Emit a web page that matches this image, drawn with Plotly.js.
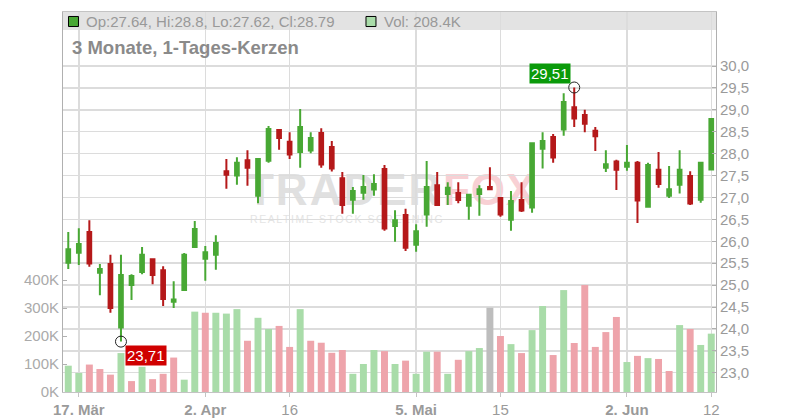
<!DOCTYPE html>
<html><head><meta charset="utf-8">
<script src="https://cdn.plot.ly/plotly-3.0.1.min.js"></script>
<style>html,body{margin:0;padding:0;background:#fff;}#chart{width:800px;height:420px;}</style>
</head><body><div id="chart"></div>
<script>
const dates = ["2025-03-14","2025-03-17","2025-03-18","2025-03-19","2025-03-20","2025-03-21","2025-03-24","2025-03-25","2025-03-26","2025-03-27",
"2025-03-28","2025-03-31","2025-04-01","2025-04-02","2025-04-03","2025-04-04","2025-04-07","2025-04-08","2025-04-09","2025-04-10",
"2025-04-11","2025-04-16","2025-04-17","2025-04-18","2025-04-21","2025-04-22","2025-04-23","2025-04-24","2025-04-25","2025-04-28",
"2025-04-29","2025-04-30","2025-05-02","2025-05-05","2025-05-06","2025-05-07","2025-05-08","2025-05-09","2025-05-12","2025-05-13",
"2025-05-14","2025-05-15","2025-05-16","2025-05-19","2025-05-20","2025-05-21","2025-05-22","2025-05-23","2025-05-26","2025-05-27",
"2025-05-28","2025-05-29","2025-05-30","2025-06-02","2025-06-03","2025-06-04","2025-06-05","2025-06-06","2025-06-09","2025-06-10",
"2025-06-11","2025-06-12"];
const openP  = [25.51,25.74,26.21,25.28,25.48,24.03,25.00,25.30,25.59,25.34, 24.62,24.89,25.87,25.60,25.69,27.60,27.50,27.85,27.04,27.84,
 28.54,28.27,28.04,28.07,28.47,28.15,27.44,26.95,27.11,27.18, 27.65,26.35,26.60,25.92,26.61,27.28,27.08,27.10,26.81,27.08,
 27.24,26.99,26.49,26.94,26.77,28.11,28.38,28.55,29.06,28.88, 28.52,27.68,27.82,27.70,27.79,26.79,27.63,27.04,27.29,27.49, 26.95,27.64];
const highP  = [26.21,26.30,26.48,25.48,25.69,25.69,25.25,25.87,25.60,25.43, 25.09,25.73,26.46,25.89,26.14,27.88,27.92,28.08,27.88,28.63,
 28.56,28.49,29.02,28.49,28.58,28.29,27.58,27.24,27.51,27.53, 27.74,26.71,26.74,26.39,27.83,27.58,27.35,27.35,27.06,27.28,
 27.69,26.99,27.15,27.35,28.24,28.49,28.45,29.38,29.51,29.00, 28.61,28.08,27.86,28.20,27.83,27.79,28.04,27.72,28.08,27.60, 27.79,28.80];
const lowP   = [25.37,25.46,25.42,24.77,24.37,23.71,24.66,25.25,25.02,24.52, 24.48,24.89,25.87,25.10,25.35,27.20,27.29,27.27,26.87,27.79,
 28.09,27.88,27.68,28.01,27.68,27.59,26.63,26.63,26.95,27.04, 26.24,25.99,25.78,25.76,26.33,26.81,26.83,26.87,26.49,26.58,
 27.17,26.56,26.24,26.67,26.65,27.66,27.79,28.41,28.61,28.49, 28.06,27.58,27.17,27.61,26.42,26.79,27.22,26.99,27.09,26.83, 26.88,27.62];
const closeP = [25.82,25.94,25.49,25.37,24.48,25.23,25.21,25.69,25.23,24.68, 24.67,25.69,26.28,25.75,25.96,27.52,27.79,27.68,27.88,28.56,
 28.36,27.98,28.61,28.36,27.75,27.66,26.83,27.15,27.24,27.31, 26.29,26.48,25.85,26.23,27.24,26.83,27.22,26.94,27.06,27.19,
 27.19,26.61,26.92,26.70,28.24,28.29,27.91,29.18,28.80,28.68, 28.40,27.76,27.63,27.79,26.93,27.74,27.31,27.19,27.63,26.86, 27.79,28.79];
const volume = [94000,68000,98000,82000,62000,139000,39000,90000,46000,65000, 123000,44000,287000,283000,283000,280000,296000,183000,265000,225000,
 236000,161000,296000,183000,176000,140000,150000,65000,100000,150000, 146000,100000,112000,65000,144000,144000,65000,115000,146000,157000,
 301000,200000,171000,139000,221000,307000,132000,364000,175000,382000, 161000,214000,268000,107000,129000,121000,118000,75000,239000,225000, 168000,208400];

const tickDates  = ["2025-03-17","2025-04-02","2025-04-16","2025-05-05","2025-05-15","2025-06-02","2025-06-12"];
const tickLabels = ["<b>17. Mär</b>","<b>2. Apr</b>","16","<b>5. Mai</b>","15","<b>2. Jun</b>","12"];
const priceTicks = [23,23.5,24,24.5,25,25.5,26,26.5,27,27.5,28,28.5,29,29.5,30];
const priceTickText = ["23,0","23,5","24,0","24,5","25,0","25,5","26,0","26,5","27,0","27,5","28,0","28,5","29,0","29,5","30,0"];
const volTicks = [0,100000,200000,300000,400000];
const volTickText = ["0K","100K","200K","300K","400K"];
const chartTitle = "3 Monate, 1-Tages-Kerzen";

const upColor = '#48a834', downColor = '#b5191a';
const volUp = '#a9dca9', volDown = '#eea4ab', volFlat = '#bdbdbd';

const volColors = closeP.map((c, i) => {
  if (i === 0) return c >= openP[0] ? volUp : volDown;
  if (c > closeP[i-1]) return volUp;
  if (c < closeP[i-1]) return volDown;
  return volFlat;
});

let hiIdx = 0, loIdx = 0;
highP.forEach((h,i)=>{ if (h > highP[hiIdx]) hiIdx = i; });
lowP.forEach((l,i)=>{ if (l < lowP[loIdx]) loIdx = i; });
const fmt = v => v.toFixed(2).replace('.', ',');
const last = dates.length - 1;

const FONT = 'Liberation Sans, Arial, sans-serif';

const traces = [
  {type:'bar', x:dates, y:volume, xaxis:'x', yaxis:'y', width:0.66,
   marker:{color:volColors, line:{width:0}}, hoverinfo:'skip', showlegend:false},
  {type:'candlestick', x:dates, open:openP, high:highP, low:lowP, close:closeP, xaxis:'x', yaxis:'y2',
   increasing:{line:{color:upColor,width:2}, fillcolor:upColor},
   decreasing:{line:{color:downColor,width:2}, fillcolor:downColor},
   whiskerwidth:0, hoverinfo:'skip', showlegend:false},
  {type:'scatter', mode:'markers', x:[dates[hiIdx], dates[loIdx]], y:[highP[hiIdx], lowP[loIdx]], xaxis:'x', yaxis:'y2',
   marker:{symbol:'circle-open', size:11, color:'#222', line:{width:1}}, hoverinfo:'skip', showlegend:false}
];

const wmSvg = '<svg xmlns="http://www.w3.org/2000/svg" width="290" height="56" viewBox="0 0 290 56">' +
 '<text x="2" y="33" font-family="Liberation Sans, Arial, sans-serif" font-weight="bold" font-size="44" letter-spacing="2" fill="#e0e0e0">TRADER</text>' +
 '<text x="198" y="33" font-family="Liberation Sans, Arial, sans-serif" font-weight="bold" font-size="44" letter-spacing="1" fill="#f8d0d4">FOX</text>' +
 '<text x="5" y="51" font-family="Liberation Sans, Arial, sans-serif" font-size="10.5" letter-spacing="1.6" fill="#e4e4e4">REALTIME STOCK SCREENING</text>' +
 '</svg>';

const layout = {
  width:800, height:420,
  margin:{l:63, r:84, t:12, b:28, pad:0},
  paper_bgcolor:'#ffffff', plot_bgcolor:'#ffffff',
  font:{family:FONT, color:'#999999', size:15},
  showlegend:false, hovermode:false,
  boxgap:0.5,
  xaxis:{type:'category', range:[-0.5, 61.45], tickmode:'array', tickvals:tickDates, ticktext:tickLabels,
    showgrid:true, gridcolor:'#dcdcdc', gridwidth:1.5, showline:true, linecolor:'#c4c4c4', mirror:true,
    ticks:'outside', ticklen:4, tickcolor:'#c4c4c4', tickfont:{size:15, color:'#9a9a9a'},
    rangeslider:{visible:false}, zeroline:false, fixedrange:true},
  yaxis:{range:[0, 1357143], tickmode:'array', tickvals:volTicks, ticktext:volTickText,
    showgrid:false, zeroline:false, showline:true, linecolor:'#b0b0b0', ticks:'inside', ticklen:4, tickcolor:'#b0b0b0',
    tickfont:{size:15, color:'#aaaaaa'}, fixedrange:true},
  yaxis2:{overlaying:'y', side:'right', range:[22.56, 31.233], tickmode:'array', tickvals:priceTicks, ticktext:priceTickText,
    showgrid:true, gridcolor:'#dcdcdc', gridwidth:1.5, zeroline:false, showline:true, linecolor:'#b0b0b0',
    ticks:'inside', ticklen:4, tickcolor:'#b0b0b0', tickfont:{size:15, color:'#9a9a9a'}, fixedrange:true},
  shapes:[
    {type:'rect', xref:'paper', yref:'paper', x0:0, x1:1, y0:0.9526, y1:1, fillcolor:'#e3e3e3', line:{width:0}, layer:'below'},
    {type:'rect', xref:'paper', yref:'paper', x0:0.0084, x1:0.0237, y0:0.9618, y1:0.9882, fillcolor:upColor, line:{color:'#000', width:1}},
    {type:'rect', xref:'paper', yref:'paper', x0:0.4640, x1:0.4793, y0:0.9618, y1:0.9882, fillcolor:volUp, line:{color:'#000', width:1}}
  ],
  images:[
    {source:'data:image/svg+xml;charset=utf-8,' + encodeURIComponent(wmSvg), xref:'paper', yref:'paper',
     x:0.2787, y:0.5789, sizex:0.444, sizey:0.1474, xanchor:'left', yanchor:'top', sizing:'stretch', layer:'below', opacity:1}
  ],
  annotations:[
    {xref:'paper', yref:'paper', x:0.032, y:0.976, xanchor:'left', yanchor:'middle', showarrow:false,
     text:'Op:' + openP[last] + ', Hi:' + highP[last] + ', Lo:' + lowP[last] + ', Cl:' + closeP[last],
     font:{size:15, color:'#999999'}},
    {xref:'paper', yref:'paper', x:0.4885, y:0.976, xanchor:'left', yanchor:'middle', showarrow:false,
     text:'Vol: ' + (volume[last]/1000).toFixed(1) + 'K', font:{size:15, color:'#999999'}},
    {xref:'paper', yref:'paper', x:0.0105, y:0.906, xanchor:'left', yanchor:'middle', showarrow:false,
     text:'<b>' + chartTitle + '</b>', font:{size:18.5, color:'#8a8a8a'}},
    {xref:'x', yref:'y2', x:dates[hiIdx], y:highP[hiIdx], showarrow:false, xshift:-24, yshift:14,
     text:fmt(highP[hiIdx]), bgcolor:'#0a9a0a', borderpad:1, font:{size:15, color:'#ffffff'}},
    {xref:'x', yref:'y2', x:dates[loIdx], y:lowP[loIdx], showarrow:false, xshift:25, yshift:-14,
     text:fmt(lowP[loIdx]), bgcolor:'#d00000', borderpad:1, font:{size:15, color:'#ffffff'}}
  ]
};

Plotly.newPlot('chart', traces, layout, {staticPlot:true, displayModeBar:false});
</script>
</body></html>
